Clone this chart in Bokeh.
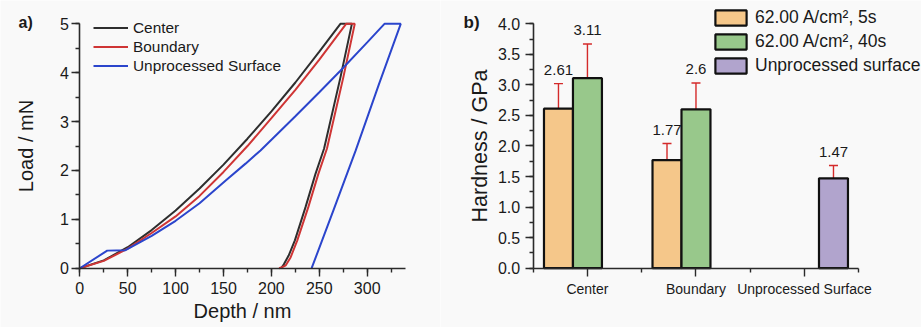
from bokeh.plotting import figure
from bokeh.layouts import row
from bokeh.models import (Range1d, SingleIntervalTicker, FixedTicker, Legend, LegendItem,
                          Label, Whisker, ColumnDataSource, TeeHead, PrintfTickFormatter)
from bokeh.core.properties import value
from bokeh.embed import file_html
from bokeh.resources import INLINE

# ---- (a) load-depth curves: loading branch, hold at peak, unloading branch ----
center_depth = [0, 25, 50, 75, 100, 125, 150, 175, 200, 225, 250, 272,
                284, 272, 255, 246, 235.6, 224.5, 218, 213, 210]
center_load = [0, 0.16, 0.43, 0.78, 1.18, 1.63, 2.12, 2.65, 3.21, 3.80, 4.43, 5.0,
               5.0, 3.9, 2.45, 1.93, 1.25, 0.57, 0.26, 0.08, 0.0]

boundary_depth = [0, 25, 50, 75, 100, 125, 150, 175, 200, 225, 250, 278,
                  287, 275, 258, 249, 238.5, 227, 220, 215, 211, 208]
boundary_load = [0, 0.15, 0.40, 0.72, 1.06, 1.48, 1.97, 2.50, 3.07, 3.65, 4.27, 5.0,
                 5.0, 3.9, 2.45, 1.93, 1.25, 0.57, 0.22, 0.06, 0.02, 0.0]

bare_depth = [0, 28.6, 47.7, 75, 100, 125, 152, 173, 188.6, 225, 250, 272, 300, 318,
              335, 312, 288, 265, 242]
bare_load = [0, 0.36, 0.37, 0.66, 0.97, 1.33, 1.79, 2.14, 2.41, 3.11, 3.60, 4.04, 4.62, 5.0,
             5.0, 3.75, 2.41, 1.2, 0.0]

curve_names = ["Center", "Boundary", "Unprocessed Surface"]
curve_colors = ["#2e2e2e", "#cf3535", "#2b45cc"]

# ---- (b) hardness bars ----
categories = ["Center", "Boundary", "Unprocessed Surface"]
series_labels = ["62.00 A/cm\u00b2, 5s", "62.00 A/cm\u00b2, 40s", "Unprocessed surface"]
hardness_5s = [2.61, 1.77, None]
err_5s = [0.41, 0.27, None]
hardness_40s = [3.11, 2.60, None]
err_40s = [0.56, 0.43, None]
hardness_bare = [None, None, 1.47]
err_bare = [None, None, 0.21]
bar_colors = ["#f5c78a", "#98c88b", "#b1a4cd"]

BG = "#f9f9f9"
FONT = "Liberation Sans"
TXT = "#1a1a1a"
AX = "#2a2a2a"
H = 327


def make_fig(w, xr, yr):
    # the plotting frame fills the whole canvas; axes sit at fixed data positions
    p = figure(width=w, height=H, output_backend="svg", toolbar_location=None, title=None,
               x_range=xr, y_range=yr,
               min_border_left=0, min_border_right=0, min_border_top=0, min_border_bottom=0,
               background_fill_color=BG, border_fill_color=BG, outline_line_color=None)
    p.grid.visible = False
    return p


def style_axes(p, tick_size, title_size):
    for ax in (p.xaxis[0], p.yaxis[0]):
        ax.axis_line_width = 1.6
        ax.axis_line_color = AX
        ax.major_tick_line_color = AX
        ax.minor_tick_line_color = AX
        ax.major_tick_line_width = 1.4
        ax.minor_tick_line_width = 1.4
        ax.major_tick_in = 0
        ax.minor_tick_in = 0
        ax.major_tick_out = 8
        ax.minor_tick_out = 4
        ax.major_label_text_font = FONT
        ax.major_label_text_font_size = tick_size
        ax.major_label_text_color = TXT
        ax.axis_label_text_font = FONT
        ax.axis_label_text_font_size = title_size
        ax.axis_label_text_font_style = "normal"
        ax.axis_label_text_color = TXT


# ---------------- panel (a) ----------------
p1 = make_fig(440, Range1d(-82.8, 376.5), Range1d(-1.213, 5.478))
style_axes(p1, "16px", "20px")
p1.xaxis.fixed_location = 0
p1.yaxis.fixed_location = 0
p1.xaxis.bounds = (0, 340)
p1.yaxis.bounds = (0, 5)
p1.xaxis.ticker = SingleIntervalTicker(interval=50, num_minor_ticks=2)
p1.yaxis.ticker = SingleIntervalTicker(interval=1, num_minor_ticks=2)
p1.xaxis.axis_label = "Depth / nm"
p1.yaxis.axis_label = "Load / mN"
p1.xaxis.major_label_standoff = 6
p1.yaxis.major_label_standoff = 3
p1.xaxis.axis_label_standoff = 2
p1.yaxis.axis_label_standoff = 20

items1 = []
for xs, ys, name, col in zip([center_depth, boundary_depth, bare_depth],
                             [center_load, boundary_load, bare_load],
                             curve_names, curve_colors):
    r = p1.line(xs, ys, line_color=col, line_width=2)
    items1.append(LegendItem(label=name, renderers=[r]))

leg1 = Legend(items=items1, location=(93, 252), orientation="vertical",
              glyph_width=35, glyph_height=19, label_height=19, spacing=0,
              label_standoff=5, padding=0, margin=0,
              label_text_font=FONT, label_text_font_size="15.4px", label_text_color=TXT,
              background_fill_alpha=0, border_line_color=None)
p1.add_layout(leg1)

p1.add_layout(Label(x=18, y=H - 22, x_units="screen", y_units="screen", text="a)",
                    text_font=FONT, text_font_size="16px", text_font_style="bold",
                    text_color=TXT, text_baseline="alphabetic"))

# ---------------- panel (b) ----------------
p2 = make_fig(481, Range1d(-0.354, 4.078), Range1d(-0.971, 4.381))
style_axes(p2, "16px", "21.5px")
p2.xaxis.fixed_location = 0
p2.yaxis.fixed_location = 0.5
p2.xaxis.bounds = (0.5, 3.5)
p2.yaxis.bounds = (0, 4)
p2.xaxis.ticker = FixedTicker(ticks=[1, 2, 3], minor_ticks=[0.5, 1.5, 2.5, 3.5])
p2.xaxis.major_label_overrides = {i + 1: c for i, c in enumerate(categories)}
p2.xaxis.major_label_text_font_size = "14px"
p2.xaxis.major_label_standoff = 5
p2.yaxis.ticker = SingleIntervalTicker(interval=0.5, num_minor_ticks=2)
p2.yaxis.formatter = PrintfTickFormatter(format="%.1f")
p2.yaxis.axis_label = "Hardness / GPa"
p2.yaxis.major_label_standoff = 5
p2.yaxis.axis_label_standoff = 3

bar_w = 0.267
slot_offsets = [-1, 0, 1]
items2 = []
for vals, errs, off, col, lab in zip([hardness_5s, hardness_40s, hardness_bare],
                                     [err_5s, err_40s, err_bare],
                                     slot_offsets, bar_colors, series_labels):
    xs, hs, es = [], [], []
    for i, (v, e) in enumerate(zip(vals, errs)):
        if v is None:
            continue
        xs.append(i + 1 + off * bar_w)
        hs.append(v)
        es.append(e)
    src = ColumnDataSource(dict(
        x=xs, top=hs,
        upper=[h + e for h, e in zip(hs, es)],
        lower=[h - e for h, e in zip(hs, es)],
        text=[f"{h:g}" for h in hs]))
    r = p2.vbar(x="x", top="top", width=bar_w, bottom=0, source=src,
                fill_color=col, line_color="#111111", line_width=2.2)
    items2.append(LegendItem(label=lab, renderers=[r]))
    p2.add_layout(Whisker(base="x", upper="upper", lower="lower", source=src,
                          line_color="#d42a2a", line_width=1.4,
                          upper_head=TeeHead(size=9, line_color="#d42a2a", line_width=1.4),
                          lower_head=TeeHead(size=9, line_color="#d42a2a", line_width=1.4)))
    p2.text(x="x", y="upper", text="text", source=src, text_align="center",
            text_baseline="alphabetic", y_offset=-14, text_font=value(FONT),
            text_font_size="15px", text_color=TXT)

leg2 = Legend(items=items2, location=(271, 251), orientation="vertical",
              glyph_width=39, glyph_height=19, label_height=19, spacing=3,
              label_standoff=5, padding=0, margin=0,
              label_text_font=FONT, label_text_font_size="17.5px", label_text_color=TXT,
              background_fill_alpha=0, border_line_color=None)
p2.add_layout(leg2)

p2.add_layout(Label(x=23, y=H - 22, x_units="screen", y_units="screen", text="b)",
                    text_font=FONT, text_font_size="17px", text_font_style="bold",
                    text_color=TXT, text_baseline="alphabetic"))

layout = row(p1, p2, spacing=0)
open("out.html", "w").write(file_html(layout, INLINE))
